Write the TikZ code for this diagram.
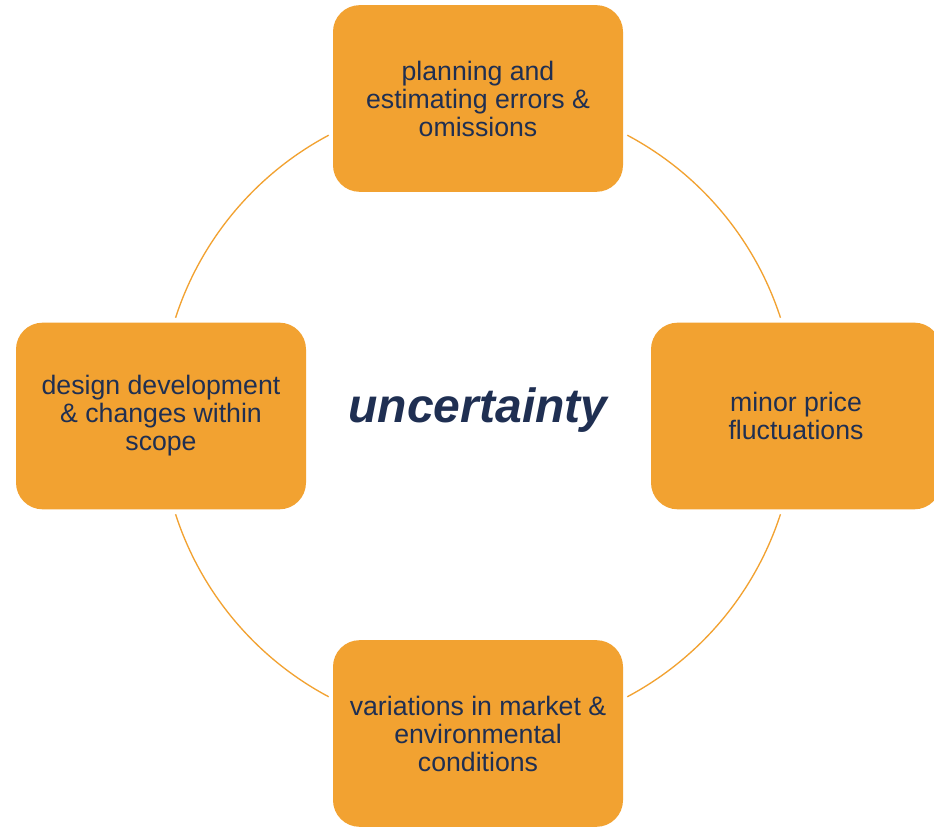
\documentclass[tikz,border=0pt]{standalone}
\usepackage{fontspec}
\setmainfont{Liberation Sans}
\definecolor{boxorange}{HTML}{F2A231}
\definecolor{navy}{HTML}{1F2F52}
\begin{document}
\begin{tikzpicture}[x=0.75pt,y=0.75pt,
  box/.style={fill=boxorange, draw=none, rounded corners=20pt,
    minimum width=217.5pt, minimum height=140pt, align=center,
    text=navy, font=\fontsize{20pt}{21pt}\selectfont, inner sep=0pt},
  ring/.style={draw=boxorange, line width=1pt}]
\useasboundingbox (0,0) rectangle (934,827);
\fill[white] (0,0) rectangle (934,827);
\coordinate (c) at (478,411);
\node[box] (top) at (478,728.5) {planning and\\estimating errors \&\\omissions};
\node[box] (left) at (161,411) {design development\\\& changes within\\scope};
\node[box] (right) at (796,411) {minor price\\fluctuations};
\node[box] (bottom) at (478,93.5) {variations in market \&\\environmental\\conditions};
\node[text=navy, font=\fontsize{36pt}{38pt}\selectfont\bfseries\itshape] (mid) at (478,417) {uncertainty};
\draw[ring] ([shift={(18:318)}]c) arc (18:62:318);
\draw[ring] ([shift={(118:318)}]c) arc (118:162:318);
\draw[ring] ([shift={(198:318)}]c) arc (198:242:318);
\draw[ring] ([shift={(298:318)}]c) arc (298:342:318);
\end{tikzpicture}
\end{document}
